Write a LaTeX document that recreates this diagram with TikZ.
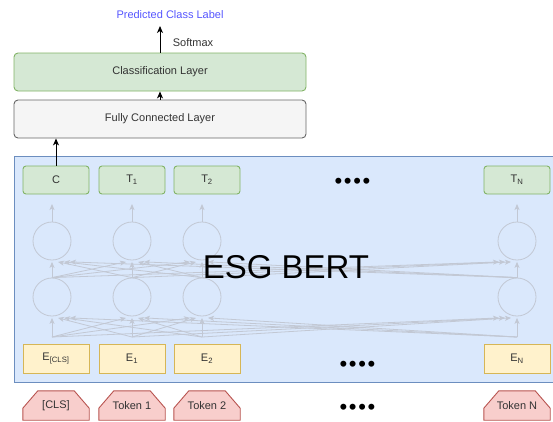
\documentclass[tikz,border=0pt]{standalone}
\usepackage{fontspec}
\setmainfont{Liberation Sans}
\usetikzlibrary{arrows.meta,calc,backgrounds}
\definecolor{gfill}{HTML}{D5E8D4}\definecolor{gline}{HTML}{82B366}
\definecolor{yfill}{HTML}{FFF2CC}\definecolor{yline}{HTML}{D6B656}
\definecolor{rfill}{HTML}{F8CECC}\definecolor{rline}{HTML}{B85450}
\definecolor{bfill}{HTML}{DAE8FC}\definecolor{bline}{HTML}{6C8EBF}
\definecolor{wfill}{HTML}{F5F5F5}\definecolor{wline}{HTML}{666666}
\definecolor{net}{RGB}{194,200,212}
\definecolor{txt}{HTML}{333333}
\definecolor{lab}{RGB}{85,85,255}
\newcommand{\fourdots}{•\kern1.7pt•\kern1.7pt•\kern1.7pt•}
\begin{document}
\begin{tikzpicture}[x=1pt,y=-1pt,
  every node/.style={font=\fontsize{11}{13}\selectfont, text=txt, inner sep=0pt},
  layerbox/.style={draw=wline, fill=wfill, rounded corners=4pt, minimum width=292pt, minimum height=38pt, line width=0.9pt},
  clsbox/.style={layerbox, draw=gline, fill=gfill},
  outbox/.style={draw=gline, fill=gfill, rounded corners=3pt, minimum width=66pt, minimum height=28pt, line width=0.9pt},
  embbox/.style={draw=yline, fill=yfill, minimum width=66pt, minimum height=29pt, line width=0.9pt},
  tokbox/.style={minimum width=66pt, minimum height=29pt},
  tokline/.style={draw=rline, fill=rfill, line width=0.9pt},
  neuron/.style={circle, draw=net, minimum size=38pt, line width=0.8pt},
  netarrow/.style={draw=net, line width=0.8pt, -{Stealth[length=6pt,width=5pt,inset=1.5pt]}},
  blackarrow/.style={draw=black, line width=1pt, -{Stealth[length=7pt,width=6pt,inset=2pt]}},
  dots/.style={font=\fontsize{22}{24}\selectfont, text=black},
]
\useasboundingbox (0,0) rectangle (553,421);

% BERT container
\node[draw=bline, fill=bfill, line width=0.9pt, minimum width=546pt, minimum height=226pt, anchor=north west] (bert) at (14,156) {};

% network
\foreach \i/\x in {1/52,2/132,3/202,4/517} {
  \node[neuron] (a\i) at (\x,297) {};
  \node[neuron] (b\i) at (\x,241) {};
  \coordinate (s\i) at (\x,337);
  \coordinate (o\i) at (\x,204);
}
\foreach \i in {1,...,4} {
  \foreach \j in {1,...,4} {
    \pgfmathsetmacro\dx{6*(\i-\j)}
    \draw[netarrow] (s\i) -- ($(a\j.south)+(\dx,1.5)$);
    \draw[netarrow] (a\i.north) -- ($(b\j.south)+(\dx,1.5)$);
  }
  \draw[netarrow] (b\i.north) -- (o\i);
}

\node[font=\fontsize{33}{36}\selectfont, text=black] (title) at (286,267.5) {ESG BERT};

% output tokens
\node[outbox] (t0) at (56,180) {C};
\node[outbox] (t1) at (132,180) {T\textsubscript{1}};
\node[outbox] (t2) at (207,180) {T\textsubscript{2}};
\node[outbox] (tN) at (517,180) {T\textsubscript{N}};
\node[dots] (d1) at (352.5,183) {\fourdots};

% embeddings
\node[embbox] (e0) at (56,358.5) {E\textsubscript{[CLS]}};
\node[embbox] (e1) at (132,358.5) {E\textsubscript{1}};
\node[embbox] (e2) at (207,358.5) {E\textsubscript{2}};
\node[embbox] (eN) at (517,358.5) {E\textsubscript{N}};
\node[dots] (d2) at (357.5,366) {\fourdots};

% input tokens
\node[tokbox] (k0) at (56,405.5) {[CLS]};
\node[tokbox] (k1) at (132,405.5) {Token 1};
\node[tokbox] (k2) at (207,405.5) {Token 2};
\node[tokbox] (kN) at (517,405.5) {Token N};
\node[dots] (d3) at (357.5,409) {\fourdots};
\begin{scope}[on background layer]
\foreach \n in {k0,k1,k2,kN}
  \draw[tokline] (\n.south west) -- ($(\n.south west)+(0,-12)$) -- ($(\n.north west)+(15,0)$)
    -- ($(\n.north east)+(-15,0)$) -- ($(\n.south east)+(0,-12)$) -- (\n.south east) -- cycle;
\end{scope}

% head
\node[layerbox] (fc) at (160,119) {Fully Connected Layer};
\node[clsbox] (cls) at (160,72) {Classification Layer};
\node[text=lab] (plab) at (170,15) {Predicted Class Label};
\node (smx) at (193,43) {Softmax};
\coordinate (out) at (160,26);

\draw[blackarrow] (t0.north) -- (t0.north |- fc.south);
\draw[blackarrow] (fc.north) -- (cls.south);
\draw[blackarrow] (cls.north -| out) -- (out);
\end{tikzpicture}
\end{document}
